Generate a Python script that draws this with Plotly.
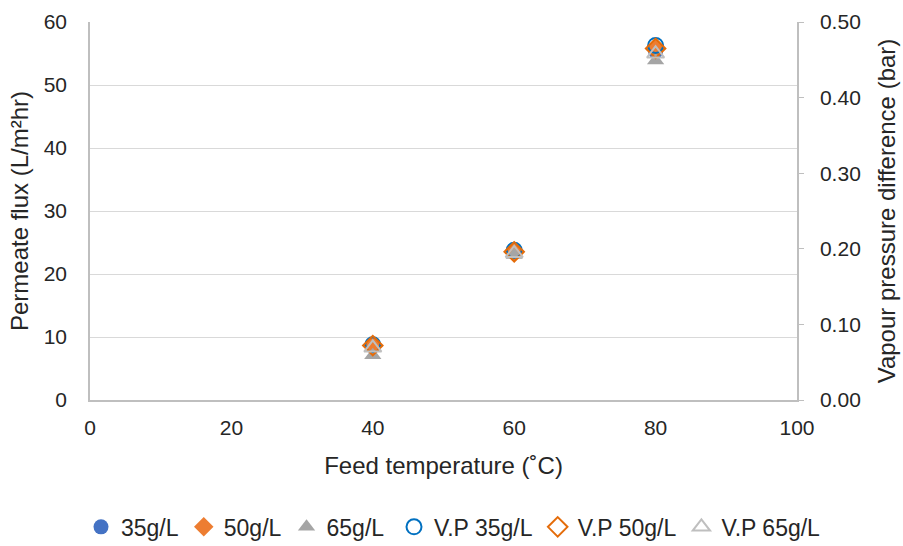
import plotly.graph_objects as go

temps = [40, 60, 80]
flux_35 = [8.8, 23.7, 55.3]
flux_50 = [8.6, 23.4, 55.8]
flux_65 = [7.1, 23.0, 53.9]
vp_35 = [0.073, 0.198, 0.469]
vp_50 = [0.072, 0.196, 0.465]
vp_65 = [0.069, 0.194, 0.458]

blue = "#4472C4"
orange = "#ED7D31"
gray = "#A5A5A5"

fig = go.Figure()
fig.add_trace(go.Scatter(x=temps, y=flux_35, mode="markers", name="35g/L", legend="legend",
                         marker=dict(symbol="circle", size=15, color=blue)))
fig.add_trace(go.Scatter(x=temps, y=flux_50, mode="markers", name="50g/L", legend="legend",
                         marker=dict(symbol="diamond", size=15, color=orange)))
fig.add_trace(go.Scatter(x=temps, y=flux_65, mode="markers", name="65g/L", legend="legend",
                         marker=dict(symbol="triangle-up", size=15, color=gray)))
fig.add_trace(go.Scatter(x=temps, y=vp_35, mode="markers", name="V.P 35g/L", yaxis="y2", legend="legend2",
                         marker=dict(symbol="circle-open", size=15, color="#0070C0", line=dict(width=2))))
fig.add_trace(go.Scatter(x=temps, y=vp_50, mode="markers", name="V.P 50g/L", yaxis="y2", legend="legend2",
                         marker=dict(symbol="diamond-open", size=15, color="#E46C0A", line=dict(width=2))))
fig.add_trace(go.Scatter(x=temps, y=vp_65, mode="markers", name="V.P 65g/L", yaxis="y2", legend="legend2",
                         marker=dict(symbol="triangle-up-open", size=15, color="#BFBFBF", line=dict(width=2))))

font = dict(family="Liberation Sans, Arial, sans-serif", size=20, color="#262626")

leg_common = dict(orientation="h", xref="container", yref="container", xanchor="left",
                  y=0.035, yanchor="middle", font=dict(size=23), itemwidth=30,
                  tracegroupgap=0, bgcolor="rgba(0,0,0,0)")

fig.update_layout(
    width=903, height=546,
    margin=dict(l=90, r=106, t=22, b=146, autoexpand=False),
    paper_bgcolor="white", plot_bgcolor="white",
    font=font,
    showlegend=True,
    legend=dict(x=81 / 903, **leg_common),
    legend2=dict(x=394 / 903, **leg_common),
    xaxis=dict(range=[0, 100], dtick=20, showgrid=False, showline=True, automargin=False,
               linecolor="#BFBFBF", linewidth=1.5, ticks="", zeroline=False,
               ticklabelstandoff=8, tickfont=dict(size=21),
               title=dict(text="Feed temperature (˚C)", standoff=19)),
    yaxis=dict(range=[0, 60], dtick=10, showgrid=True, gridcolor="#D9D9D9", automargin=False,
               showline=True, linecolor="#BFBFBF", linewidth=1.5, ticks="", zeroline=False,
               ticklabelstandoff=17, tickfont=dict(size=21),
               title=dict(text="Permeate flux (L/m²hr)", standoff=8)),
    yaxis2=dict(range=[0, 0.5], dtick=0.1, tickformat=".2f", overlaying="y", side="right",
                showgrid=False, showline=True, linecolor="#BFBFBF", linewidth=1.5, automargin=False,
                ticks="outside", ticklen=5, tickcolor="#BFBFBF", zeroline=False,
                ticklabelstandoff=12, tickfont=dict(size=21),
                title=dict(text="Vapour pressure difference (bar)", standoff=18)),
)

fig.write_html("out.html")
